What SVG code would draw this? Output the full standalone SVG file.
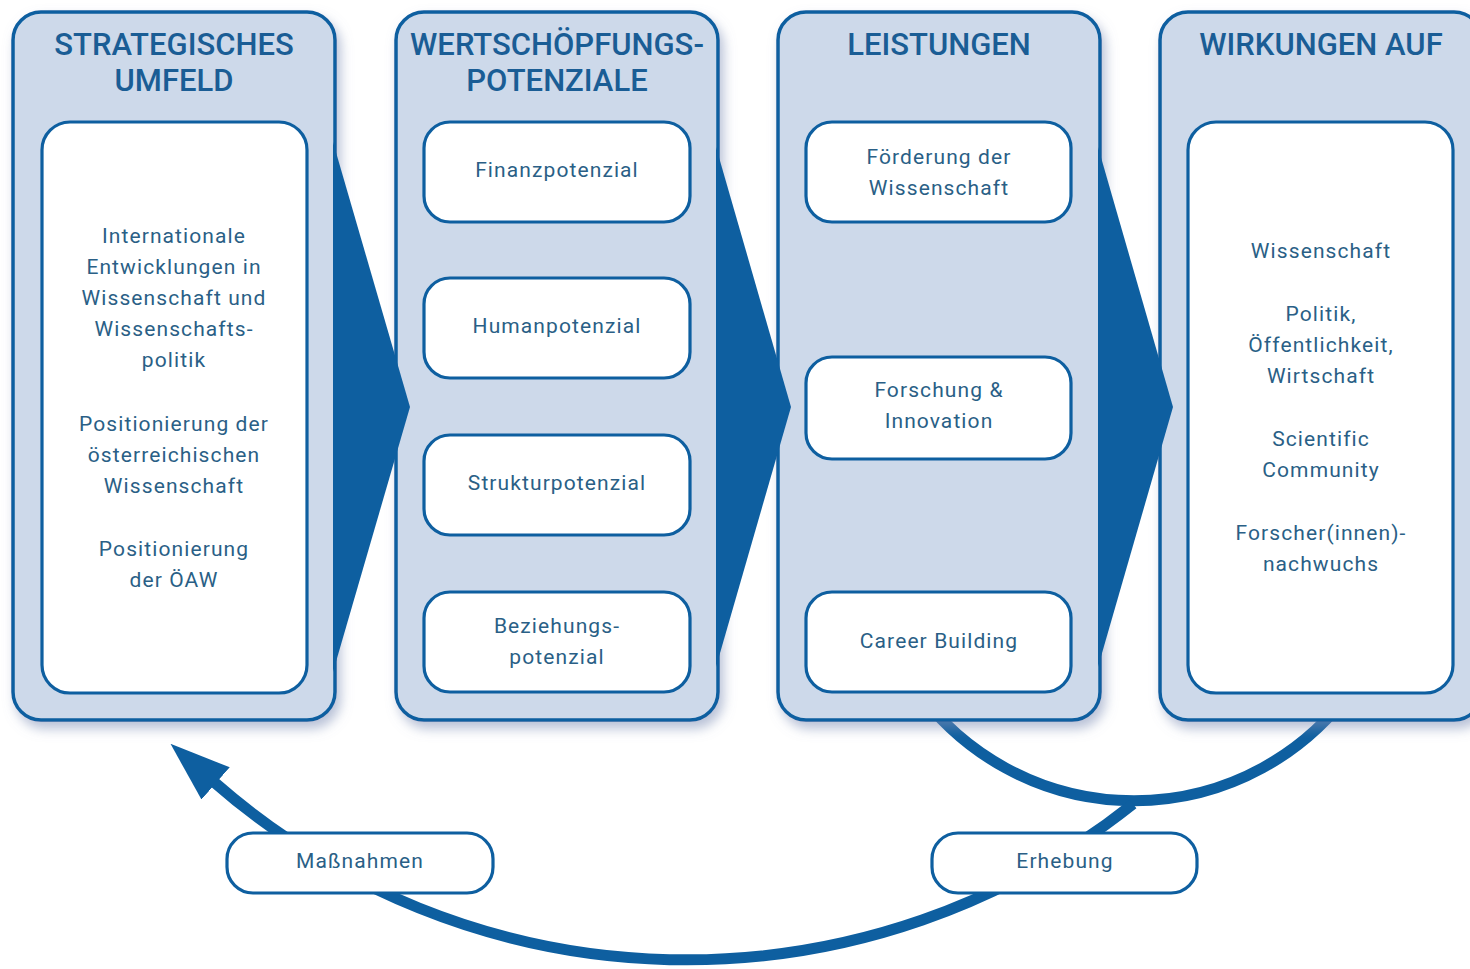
<svg xmlns="http://www.w3.org/2000/svg" width="1470" height="969" viewBox="0 0 1470 969">
  <defs>
    <filter id="shadow" x="-10%" y="-10%" width="130%" height="130%">
      <feDropShadow dx="4" dy="7" stdDeviation="6" flood-color="#7d8fb5" flood-opacity="0.55"/>
    </filter>
    <marker id="arrowhead" markerUnits="userSpaceOnUse" markerWidth="60" markerHeight="44" viewBox="0 0 56 40" refX="2" refY="20" orient="auto">
      <path d="M0,0 L56,20 L0,40 z" fill="#0e5fa0"/>
    </marker>
  </defs>
  <style>
    .col { fill: #cdd9ea; stroke: #0e5fa0; stroke-width: 3.5; }
    .box { fill: #ffffff; stroke: #0e5fa0; stroke-width: 3.2; }
    .arrow { fill: #0e5fa0; }
    .title { font-family: Roboto, "Liberation Sans", sans-serif; font-weight: 500; font-size: 31px; fill: #1a5d95; text-anchor: middle; }
    .txt { font-family: Roboto, "Liberation Sans", sans-serif; font-size: 21px; letter-spacing: 1.1px; fill: #2a5f86; text-anchor: middle; }
    .conn { fill: none; stroke: #0e5fa0; stroke-width: 11; }
  </style>
  <rect width="1470" height="969" fill="#ffffff"/>

  <g id="connectors">
    <path class="conn" d="M 917 690 A 268 268 0 0 0 1351 690"/>
    <path class="conn" d="M 1133 804 A 717 717 0 0 1 214 782" marker-end="url(#arrowhead)"/>
  </g>

  <g id="col-strategisches-umfeld">
    <rect class="col" x="13" y="12" width="322" height="708" rx="28" filter="url(#shadow)"/>
    <text class="title" x="174" y="55">STRATEGISCHES</text>
    <text class="title" x="174" y="91">UMFELD</text>
    <rect class="box" x="42" y="122" width="265" height="571" rx="28"/>
    <text class="txt" x="174" y="243">Internationale</text>
    <text class="txt" x="174" y="274">Entwicklungen in</text>
    <text class="txt" x="174" y="305">Wissenschaft und</text>
    <text class="txt" x="174" y="336">Wissenschafts-</text>
    <text class="txt" x="174" y="367">politik</text>
    <text class="txt" x="174" y="431">Positionierung der</text>
    <text class="txt" x="174" y="462">österreichischen</text>
    <text class="txt" x="174" y="493">Wissenschaft</text>
    <text class="txt" x="174" y="556">Positionierung</text>
    <text class="txt" x="174" y="587">der ÖAW</text>
  </g>

  <g id="col-wertschoepfungspotenziale">
    <rect class="col" x="396" y="12" width="322" height="708" rx="28" filter="url(#shadow)"/>
    <text class="title" x="557" y="55">WERTSCHÖPFUNGS-</text>
    <text class="title" x="557" y="91">POTENZIALE</text>
    <g id="finanzpotenzial">
      <rect class="box" x="424" y="122" width="266" height="100" rx="26"/>
      <text class="txt" x="557" y="177">Finanzpotenzial</text>
    </g>
    <g id="humanpotenzial">
      <rect class="box" x="424" y="278" width="266" height="100" rx="26"/>
      <text class="txt" x="557" y="333">Humanpotenzial</text>
    </g>
    <g id="strukturpotenzial">
      <rect class="box" x="424" y="435" width="266" height="100" rx="26"/>
      <text class="txt" x="557" y="490">Strukturpotenzial</text>
    </g>
    <g id="beziehungspotenzial">
      <rect class="box" x="424" y="592" width="266" height="100" rx="26"/>
      <text class="txt" x="557" y="633">Beziehungs-</text>
      <text class="txt" x="557" y="664">potenzial</text>
    </g>
  </g>

  <g id="col-leistungen">
    <rect class="col" x="778" y="12" width="322" height="708" rx="28" filter="url(#shadow)"/>
    <text class="title" x="939" y="55">LEISTUNGEN</text>
    <g id="foerderung">
      <rect class="box" x="806" y="122" width="265" height="100" rx="26"/>
      <text class="txt" x="939" y="164">Förderung der</text>
      <text class="txt" x="939" y="195">Wissenschaft</text>
    </g>
    <g id="forschung">
      <rect class="box" x="806" y="357" width="265" height="102" rx="26"/>
      <text class="txt" x="939" y="397">Forschung &amp;</text>
      <text class="txt" x="939" y="428">Innovation</text>
    </g>
    <g id="career">
      <rect class="box" x="806" y="592" width="265" height="100" rx="26"/>
      <text class="txt" x="939" y="648">Career Building</text>
    </g>
  </g>

  <g id="col-wirkungen">
    <rect class="col" x="1160" y="12" width="322" height="708" rx="28" filter="url(#shadow)"/>
    <text class="title" x="1321" y="55">WIRKUNGEN AUF</text>
    <rect class="box" x="1188" y="122" width="265" height="571" rx="28"/>
    <text class="txt" x="1321" y="258">Wissenschaft</text>
    <text class="txt" x="1321" y="321">Politik,</text>
    <text class="txt" x="1321" y="352">Öffentlichkeit,</text>
    <text class="txt" x="1321" y="383">Wirtschaft</text>
    <text class="txt" x="1321" y="446">Scientific</text>
    <text class="txt" x="1321" y="477">Community</text>
    <text class="txt" x="1321" y="540">Forscher(innen)-</text>
    <text class="txt" x="1321" y="571">nachwuchs</text>
  </g>

  <g id="flow-arrows">
    <polygon class="arrow" points="333,142 410,407 333,672"/>
    <polygon class="arrow" points="716,147 791,407 716,667"/>
    <polygon class="arrow" points="1098,147 1173,407 1098,667"/>
  </g>

  <g id="massnahmen">
    <rect class="box" x="227" y="833" width="266" height="60" rx="26"/>
    <text class="txt" x="360" y="868">Maßnahmen</text>
  </g>
  <g id="erhebung">
    <rect class="box" x="932" y="833" width="265" height="60" rx="26"/>
    <text class="txt" x="1065" y="868">Erhebung</text>
  </g>
</svg>
